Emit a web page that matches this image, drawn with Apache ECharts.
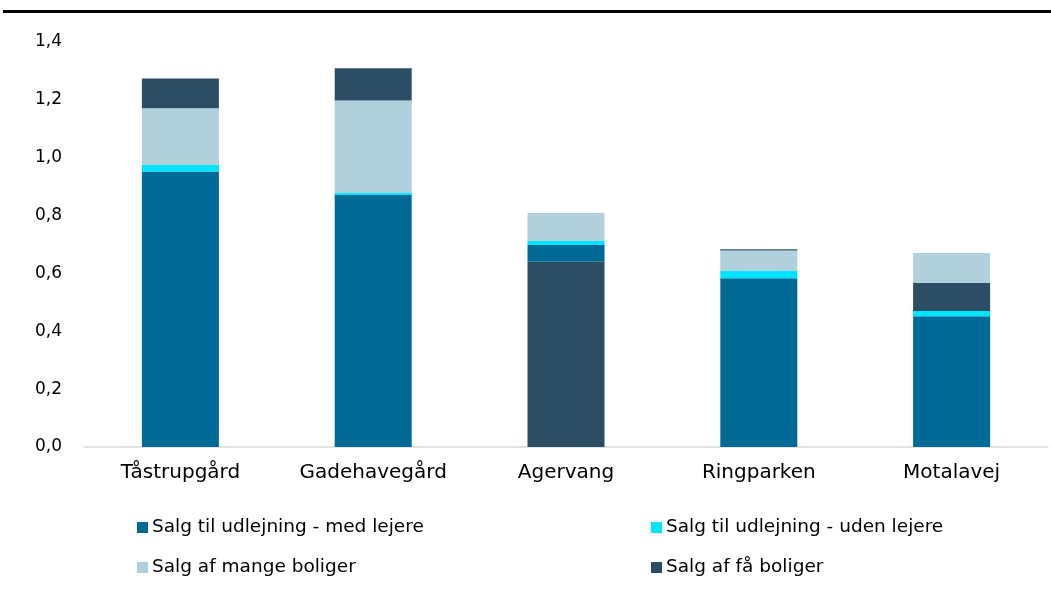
<!DOCTYPE html>
<html><head><meta charset="utf-8">
<script src="https://cdn.jsdelivr.net/npm/echarts@6/dist/echarts.min.js"></script>
<style>html,body{margin:0;padding:0;background:#fff}#c{width:1051px;height:593px}</style>
</head><body><div id="c"></div>
<script>
const categories = ['Tåstrupgård','Gadehavegård','Agervang','Ringparken','Motalavej'];
const medLejere   = [0.952, 0.871, 0.058, 0.583, 0.452];
const udenLejere  = [0.023, 0.007, 0.014, 0.025, 0.018];
const mangeBoliger= [0.196, 0.320, 0.097, 0.071, 0.104];
const faaBoliger  = [0.103, 0.111, 0.640, 0.005, 0.097];
// position of "få boliger" segment in each stack: 'bottom', 'middle' (below mange), 'top'
const faaPosition = ['top','top','bottom','top','middle'];
const yTicks = [0,0.2,0.4,0.6,0.8,1.0,1.2,1.4];

const N = {med:'Salg til udlejning - med lejere', uden:'Salg til udlejning - uden lejere', mange:'Salg af mange boliger', faa:'Salg af få boliger'};
const C = {med:'#006A96', uden:'#00E5FF', mange:'#B0D0DC', faa:'#2B4E64'};
const pick = pos => faaBoliger.map((v,i)=> faaPosition[i]===pos ? v : '-');
const mk = (name,color,data) => ({type:'bar', name, stack:'s', data, barWidth:77, itemStyle:{color}, emphasis:{disabled:true}});
const series = [
  mk(N.faa, C.faa, pick('bottom')),
  mk(N.med, C.med, medLejere),
  mk(N.uden, C.uden, udenLejere),
  mk(N.faa, C.faa, pick('middle')),
  mk(N.mange, C.mange, mangeBoliger),
  mk(N.faa, C.faa, pick('top'))
];
const font = "'DejaVu Sans', sans-serif";
const lg = (name,left,top)=>({data:[name], left, top, itemWidth:11, itemHeight:11, itemGap:0, icon:'rect',
  selectedMode:false, textStyle:{fontFamily:font, fontSize:18.5, color:'#000', padding:[0,0,0,-1]}});
const chart = echarts.init(document.getElementById('c'));
chart.setOption({
  animation:false,
  grid:{left:84, right:3, top:42, bottom:146, containLabel:false},
  graphic:[{type:'rect', shape:{x:3,y:10,width:1048,height:3}, style:{fill:'#000'}}],
  legend:[lg(N.med,132,513), lg(N.uden,646,513), lg(N.mange,132,553), lg(N.faa,646,553)],
  xAxis:{type:'category', data:categories, axisTick:{show:false},
    axisLine:{lineStyle:{color:'#D9D9D9', width:1.5}},
    axisLabel:{fontFamily:font, fontSize:20, color:'#000', margin:16}},
  yAxis:{type:'value', min:0, max:1.4, interval:0.2, splitLine:{show:false},
    axisLine:{show:false}, axisTick:{show:false},
    axisLabel:{fontFamily:font, fontSize:17, color:'#000', margin:22, padding:[5,0,0,0],
      formatter:v=>v.toFixed(1).replace('.',',')}},
  series
});
</script></body></html>
